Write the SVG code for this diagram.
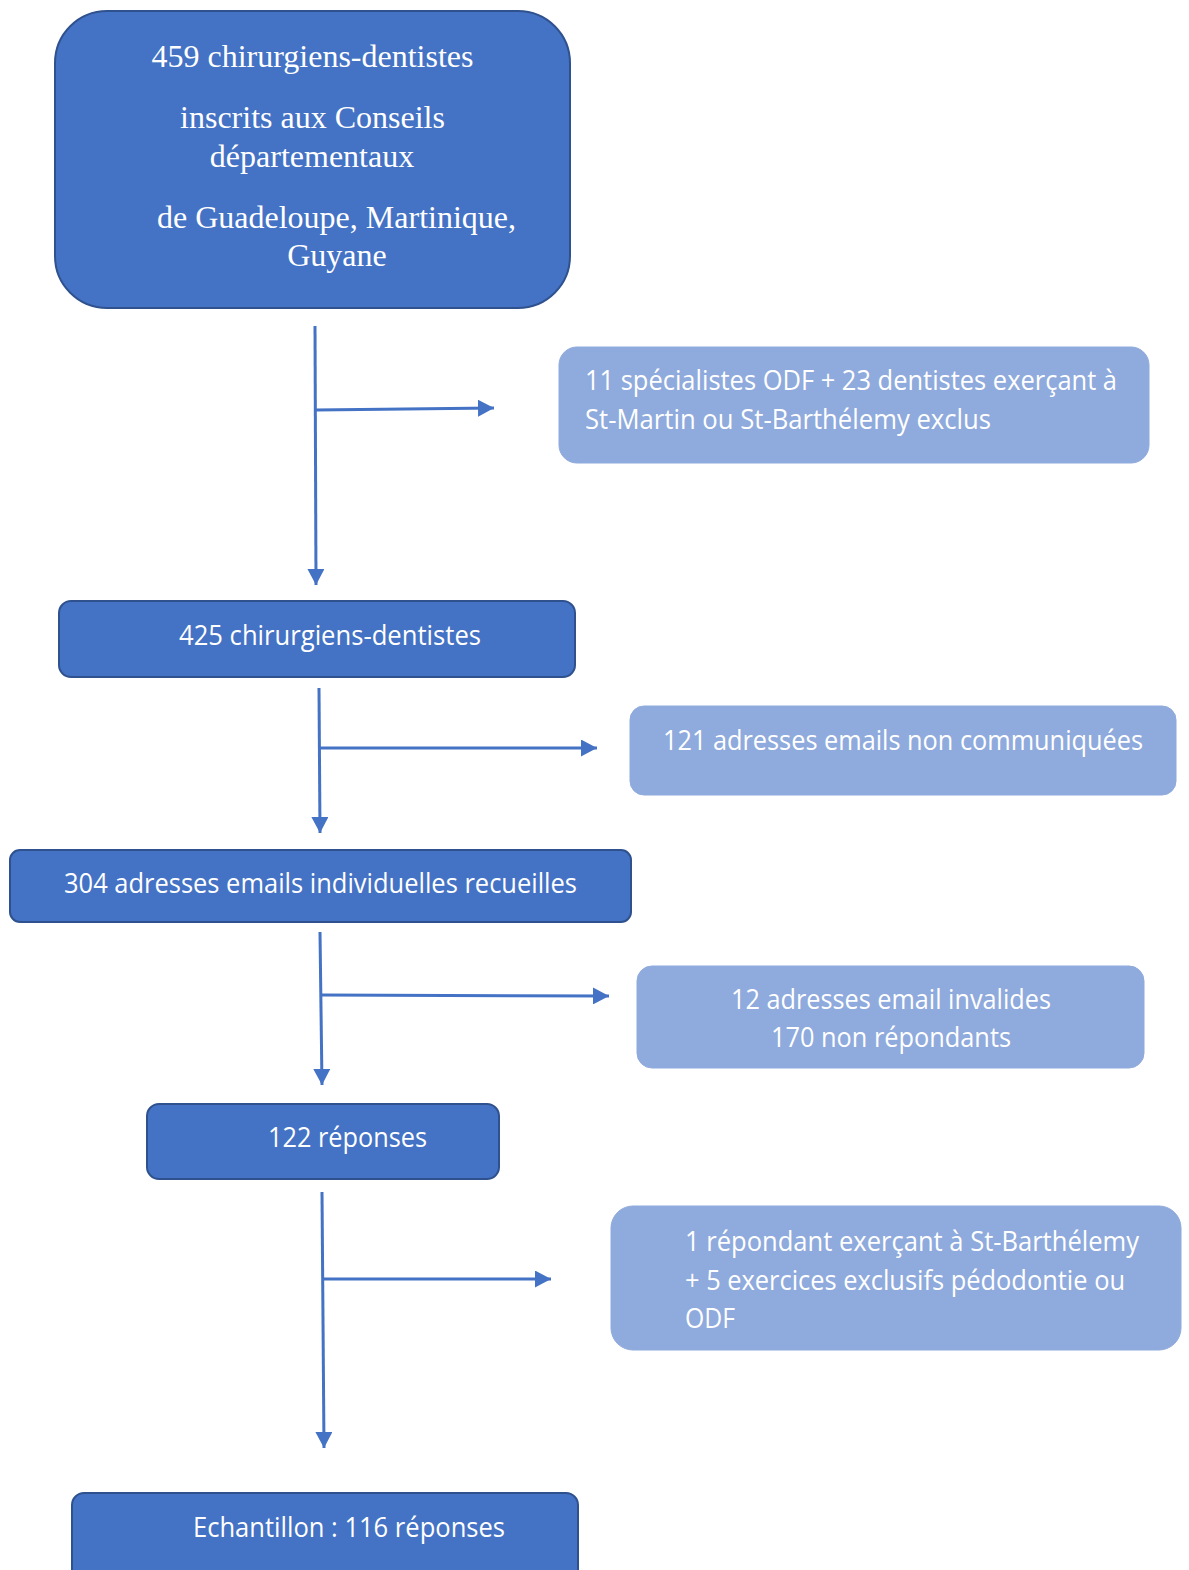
<svg xmlns="http://www.w3.org/2000/svg" width="1189" height="1570" viewBox="0 0 1189 1570">
<style>
.dark{fill:#4472C4;stroke:#2F528F;stroke-width:2}
.light{fill:#8FAADC;stroke:#8FAADC;stroke-width:1}
.serif{font-family:"Liberation Serif","Times New Roman",serif;font-size:32px;fill:#ffffff;text-anchor:middle}
.sans{font-family:"Open Sans","Noto Sans","Liberation Sans",sans-serif;font-size:27px;fill:#ffffff}
.conn{stroke:#4472C4;stroke-width:3;fill:none}
</style>
<defs>
<marker id="arr" markerUnits="userSpaceOnUse" markerWidth="17" markerHeight="17" refX="16" refY="8.5" orient="auto">
<path d="M0,0 L16,8.5 L0,17 Z" fill="#4472C4"/>
</marker>
</defs>
<rect width="1189" height="1570" fill="#ffffff"/>
<g id="connectors">
<line class="conn" x1="315" y1="326" x2="316" y2="585" marker-end="url(#arr)"/>
<line class="conn" x1="316" y1="410" x2="494" y2="408" marker-end="url(#arr)"/>
<line class="conn" x1="319" y1="688" x2="320" y2="833" marker-end="url(#arr)"/>
<line class="conn" x1="320" y1="748" x2="597" y2="748" marker-end="url(#arr)"/>
<line class="conn" x1="320" y1="932" x2="322" y2="1085" marker-end="url(#arr)"/>
<line class="conn" x1="322" y1="995" x2="609" y2="996" marker-end="url(#arr)"/>
<line class="conn" x1="322" y1="1192" x2="324" y2="1448" marker-end="url(#arr)"/>
<line class="conn" x1="324" y1="1279" x2="551" y2="1279" marker-end="url(#arr)"/>
</g>
<g id="n1">
<rect class="dark" x="55" y="11" width="515" height="297" rx="52"/>
<text class="serif" x="312.5" y="67">459 chirurgiens-dentistes</text>
<text class="serif" x="312.5" y="128">inscrits aux Conseils</text>
<text class="serif" x="312" y="167">départementaux</text>
<text class="serif" x="336.5" y="228">de Guadeloupe, Martinique,</text>
<text class="serif" x="337" y="266">Guyane</text>
</g>
<g id="n2">
<rect class="light" x="559" y="347" width="590" height="116" rx="18"/>
<text class="sans" x="585" y="390" textLength="532" lengthAdjust="spacingAndGlyphs">11 spécialistes ODF + 23 dentistes exerçant à</text>
<text class="sans" x="585" y="429" textLength="406" lengthAdjust="spacingAndGlyphs">St-Martin ou St-Barthélemy exclus</text>
</g>
<g id="n3">
<rect class="dark" x="59" y="601" width="516" height="76" rx="12"/>
<text class="sans" x="179" y="645" textLength="302" lengthAdjust="spacingAndGlyphs">425 chirurgiens-dentistes</text>
</g>
<g id="n4">
<rect class="light" x="630" y="706" width="546" height="89" rx="14"/>
<text class="sans" x="663" y="750" textLength="480" lengthAdjust="spacingAndGlyphs">121 adresses emails non communiquées</text>
</g>
<g id="n5">
<rect class="dark" x="10" y="850" width="621" height="72" rx="10"/>
<text class="sans" x="64" y="893" textLength="513" lengthAdjust="spacingAndGlyphs">304 adresses emails individuelles recueilles</text>
</g>
<g id="n6">
<rect class="light" x="637" y="966" width="507" height="102" rx="15"/>
<text class="sans" x="731" y="1009" textLength="320" lengthAdjust="spacingAndGlyphs">12 adresses email invalides</text>
<text class="sans" x="771" y="1047" textLength="240" lengthAdjust="spacingAndGlyphs">170 non répondants</text>
</g>
<g id="n7">
<rect class="dark" x="147" y="1104" width="352" height="75" rx="12"/>
<text class="sans" x="268" y="1147" textLength="159" lengthAdjust="spacingAndGlyphs">122 réponses</text>
</g>
<g id="n8">
<rect class="light" x="611" y="1206" width="570" height="144" rx="22"/>
<text class="sans" x="685" y="1251" textLength="454" lengthAdjust="spacingAndGlyphs">1 répondant exerçant à St-Barthélemy</text>
<text class="sans" x="685" y="1290" textLength="440" lengthAdjust="spacingAndGlyphs">+ 5 exercices exclusifs pédodontie ou</text>
<text class="sans" x="685" y="1328" textLength="50" lengthAdjust="spacingAndGlyphs">ODF</text>
</g>
<g id="n9">
<rect class="dark" x="72" y="1493" width="506" height="90" rx="12"/>
<text class="sans" x="193" y="1537" textLength="312" lengthAdjust="spacingAndGlyphs">Echantillon : 116 réponses</text>
</g>
</svg>
